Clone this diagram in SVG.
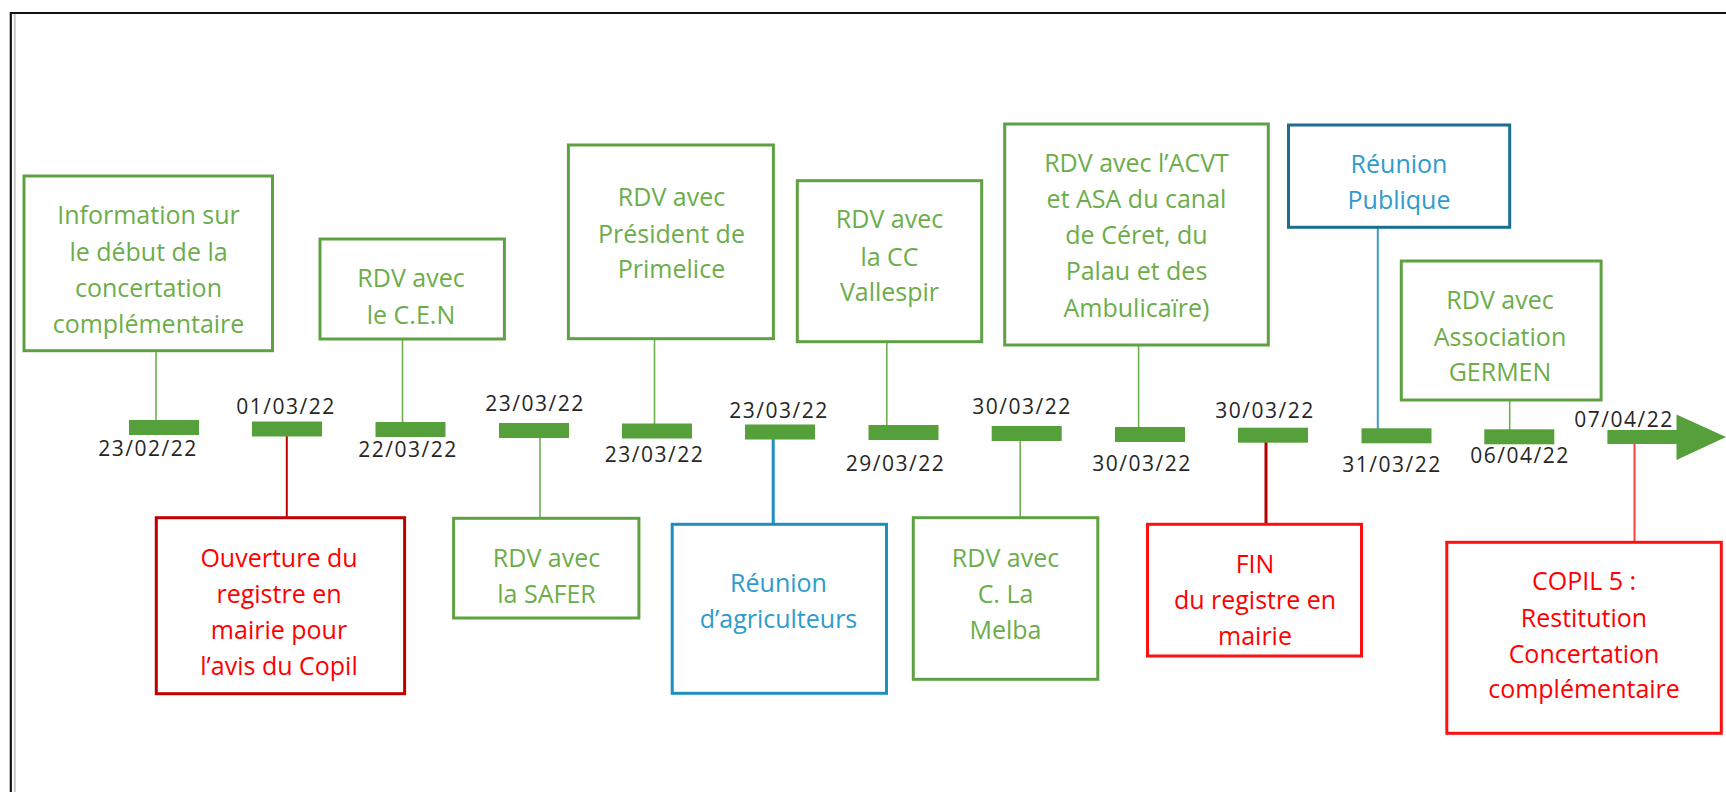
<svg xmlns="http://www.w3.org/2000/svg" width="1726" height="792" viewBox="0 0 1726 792">
<style>
.bg{fill:#ffffff}
.box{fill:#ffffff;stroke-width:3}
.g{stroke:#5EA142}
.b{stroke:#1E8FC0}
.bd{stroke:#1B6E8E}
.rd{stroke:#C00000}
.r{stroke:#FF1010}
.t{font-family:"Open Sans","Liberation Sans",sans-serif;font-size:25px;text-anchor:middle}
.tg{fill:#6CAD4A}
.tb{fill:#2E9BCB}
.tr{fill:#FF0000}
.d{font-family:"Open Sans","Liberation Sans",sans-serif;font-size:21px;letter-spacing:1.5px;text-anchor:middle;fill:#262626}
.bar{fill:#55A03B}
.cg{stroke:#6DB04F;stroke-width:1.6;fill:none}
</style>
<rect class="bg" x="0" y="0" width="1726" height="792"/>
<g id="frame">
<line x1="10.5" y1="13" x2="1726" y2="13" stroke="#111" stroke-width="2.2"/>
<line x1="10.8" y1="12" x2="10.8" y2="792" stroke="#111" stroke-width="2.2"/>
<line x1="14.8" y1="14" x2="14.8" y2="792" stroke="#C8C8C8" stroke-width="2"/>
</g>
<g id="connectors">
<line class="cg" x1="156" y1="350.7" x2="156" y2="421"/>
<line x1="286.8" y1="436" x2="286.8" y2="518" stroke="#C00000" stroke-width="2"/>
<line class="cg" x1="402.5" y1="339" x2="402.5" y2="423"/>
<line class="cg" x1="540" y1="437" x2="540" y2="526"/>
<line class="cg" x1="654.5" y1="338.7" x2="654.5" y2="424"/>
<line x1="773.2" y1="439" x2="773.2" y2="524.5" stroke="#1E8FC0" stroke-width="3"/>
<line class="cg" x1="886.8" y1="341.7" x2="886.8" y2="426"/>
<line class="cg" x1="1020.2" y1="440.5" x2="1020.2" y2="518"/>
<line class="cg" x1="1138.6" y1="345" x2="1138.6" y2="428"/>
<line x1="1266" y1="442" x2="1266" y2="525" stroke="#B00000" stroke-width="3"/>
<line x1="1377.8" y1="227" x2="1377.8" y2="429" stroke="#3C9BC3" stroke-width="2"/>
<line class="cg" x1="1509.7" y1="400" x2="1509.7" y2="430"/>
<line x1="1634.5" y1="443.5" x2="1634.5" y2="542.5" stroke="#FF4040" stroke-width="2"/>
</g>
<g id="timeline">
<rect class="bar" x="129" y="420" width="70" height="15"/>
<rect class="bar" x="252" y="421.5" width="70" height="15"/>
<rect class="bar" x="375.5" y="422" width="70" height="15"/>
<rect class="bar" x="499" y="423" width="70" height="15"/>
<rect class="bar" x="622" y="423.5" width="70" height="15"/>
<rect class="bar" x="745" y="424.5" width="70" height="15"/>
<rect class="bar" x="868.5" y="425" width="70" height="15"/>
<rect class="bar" x="991.7" y="426" width="70" height="15"/>
<rect class="bar" x="1115" y="427" width="70" height="15"/>
<rect class="bar" x="1238" y="427.7" width="70" height="15"/>
<rect class="bar" x="1361.5" y="428.3" width="70" height="15"/>
<rect class="bar" x="1484.3" y="429.3" width="70" height="15"/>
<polygon class="bar" points="1607.4,430 1676.5,430 1676.5,414.5 1726,437 1676.5,460 1676.5,444 1607.4,444"/>
<text class="d" x="148" y="456">23/02/22</text>
<text class="d" x="286" y="414.3">01/03/22</text>
<text class="d" x="408" y="456.7">22/03/22</text>
<text class="d" x="535" y="410.7">23/03/22</text>
<text class="d" x="654.5" y="461.7">23/03/22</text>
<text class="d" x="779" y="418.3">23/03/22</text>
<text class="d" x="895.5" y="471">29/03/22</text>
<text class="d" x="1022" y="414">30/03/22</text>
<text class="d" x="1142" y="471">30/03/22</text>
<text class="d" x="1265" y="417.7">30/03/22</text>
<text class="d" x="1392" y="472.3">31/03/22</text>
<text class="d" x="1520" y="463.3">06/04/22</text>
<text class="d" x="1624" y="426.7">07/04/22</text>
</g>
<g id="n-info">
<rect class="box g" x="24" y="176" width="248.5" height="174.7"/>
<text class="t tg" x="148.5"><tspan x="148.5" y="224">Information sur</tspan><tspan x="148.5" y="261">le début de la</tspan><tspan x="148.5" y="297">concertation</tspan><tspan x="148.5" y="333">complémentaire</tspan></text>
</g>
<g id="n-cen">
<rect class="box g" x="320" y="239" width="184.4" height="100"/>
<text class="t tg"><tspan x="411" y="287.3">RDV avec</tspan><tspan x="411" y="324">le C.E.N</tspan></text>
</g>
<g id="n-president">
<rect class="box g" x="568.4" y="145" width="205" height="193.7"/>
<text class="t tg"><tspan x="671.5" y="206">RDV avec</tspan><tspan x="671.5" y="242.7">Président de</tspan><tspan x="671.5" y="278.3">Primelice</tspan></text>
</g>
<g id="n-cc">
<rect class="box g" x="797.3" y="180.7" width="184.4" height="161"/>
<text class="t tg"><tspan x="889.5" y="228.3">RDV avec</tspan><tspan x="889.5" y="265.7">la CC</tspan><tspan x="889.5" y="301.3">Vallespir</tspan></text>
</g>
<g id="n-acvt">
<rect class="box g" x="1004.7" y="124" width="263.6" height="221"/>
<text class="t tg"><tspan x="1136.5" y="171.7">RDV avec l’ACVT</tspan><tspan x="1136.5" y="208.3">et ASA du canal</tspan><tspan x="1136.5" y="244">de Céret, du</tspan><tspan x="1136.5" y="280">Palau et des</tspan><tspan x="1136.5" y="316.7">Ambulicaïre)</tspan></text>
</g>
<g id="n-publique">
<rect class="box bd" x="1288.5" y="125" width="221.2" height="102.3"/>
<text class="t tb"><tspan x="1399" y="172.7">Réunion</tspan><tspan x="1399" y="209.3">Publique</tspan></text>
</g>
<g id="n-germen">
<rect class="box g" x="1401.3" y="261" width="199.8" height="139"/>
<text class="t tg"><tspan x="1500" y="309.3">RDV avec</tspan><tspan x="1500" y="346">Association</tspan><tspan x="1500" y="381">GERMEN</tspan></text>
</g>
<g id="n-ouverture">
<rect class="box rd" x="156.3" y="517.7" width="248.3" height="176"/>
<text class="t tr"><tspan x="279" y="566.7">Ouverture du</tspan><tspan x="279" y="602.7">registre en</tspan><tspan x="279" y="639.3">mairie pour</tspan><tspan x="279" y="675.3">l’avis du Copil</tspan></text>
</g>
<g id="n-safer">
<rect class="box g" x="453.6" y="518.3" width="185.3" height="99.7"/>
<text class="t tg"><tspan x="546.5" y="566.7">RDV avec</tspan><tspan x="546.5" y="602.7">la SAFER</tspan></text>
</g>
<g id="n-agriculteurs">
<rect class="box b" x="672.2" y="524.3" width="214.3" height="169"/>
<text class="t tb"><tspan x="778.5" y="591.7">Réunion</tspan><tspan x="778.5" y="628.3">d’agriculteurs</tspan></text>
</g>
<g id="n-melba">
<rect class="box g" x="913.3" y="517.7" width="184.5" height="161.6"/>
<text class="t tg"><tspan x="1005.5" y="566.7">RDV avec</tspan><tspan x="1005.5" y="603.3">C. La</tspan><tspan x="1005.5" y="639.3">Melba</tspan></text>
</g>
<g id="n-fin">
<rect class="box r" x="1147.5" y="524.3" width="214" height="131.7"/>
<text class="t tr"><tspan x="1255" y="572.7">FIN</tspan><tspan x="1255" y="609.3">du registre en</tspan><tspan x="1255" y="645">mairie</tspan></text>
</g>
<g id="n-copil">
<rect class="box r" x="1446.8" y="542.3" width="274.5" height="191"/>
<text class="t tr"><tspan x="1584" y="590">COPIL 5 :</tspan><tspan x="1584" y="626.7">Restitution</tspan><tspan x="1584" y="662.7">Concertation</tspan><tspan x="1584" y="698.3">complémentaire</tspan></text>
</g>
</svg>
